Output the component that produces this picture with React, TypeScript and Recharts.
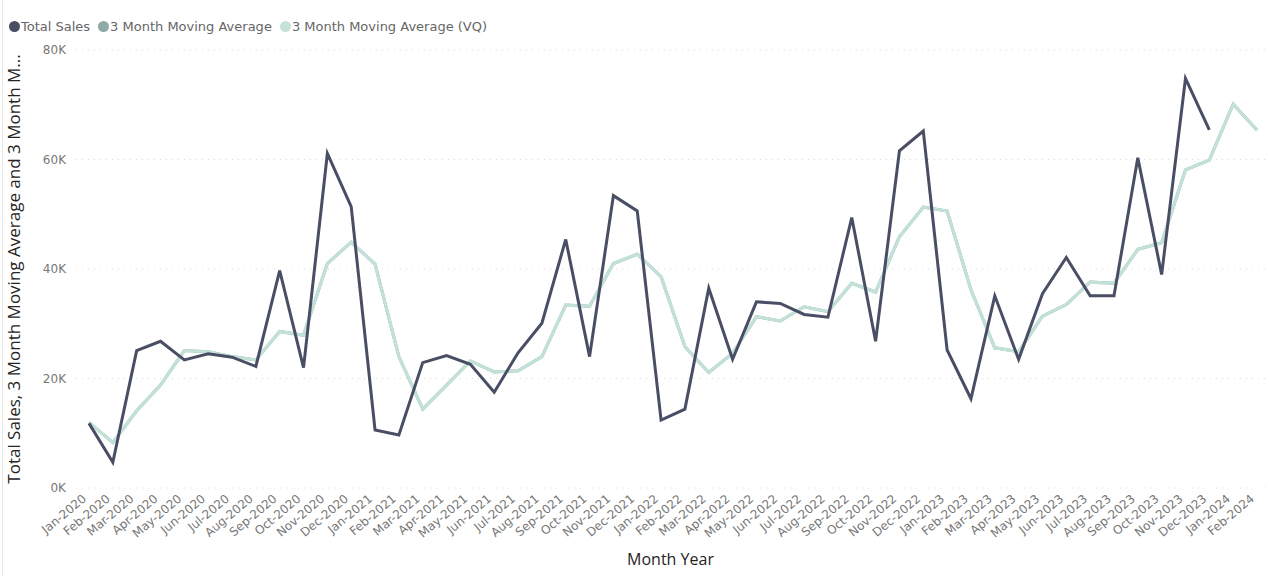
import * as React from "react";
import { LineChart, Line, XAxis, YAxis, CartesianGrid, Legend, Label } from "recharts";

const months = [
  "Jan-2020", "Feb-2020", "Mar-2020", "Apr-2020", "May-2020", "Jun-2020", "Jul-2020", "Aug-2020", "Sep-2020", "Oct-2020", "Nov-2020", "Dec-2020",
  "Jan-2021", "Feb-2021", "Mar-2021", "Apr-2021", "May-2021", "Jun-2021", "Jul-2021", "Aug-2021", "Sep-2021", "Oct-2021", "Nov-2021", "Dec-2021",
  "Jan-2022", "Feb-2022", "Mar-2022", "Apr-2022", "May-2022", "Jun-2022", "Jul-2022", "Aug-2022", "Sep-2022", "Oct-2022", "Nov-2022", "Dec-2022",
  "Jan-2023", "Feb-2023", "Mar-2023", "Apr-2023", "May-2023", "Jun-2023", "Jul-2023", "Aug-2023", "Sep-2023", "Oct-2023", "Nov-2023", "Dec-2023",
  "Jan-2024", "Feb-2024",
];

// values in K
const totalSales = [
  11.8, 4.7, 25.1, 26.8, 23.4, 24.5, 23.9, 22.2, 39.7, 22.0, 61.1, 51.4,
  10.6, 9.7, 22.9, 24.2, 22.6, 17.5, 24.7, 30.1, 45.4, 24.0, 53.4, 50.6,
  12.4, 14.4, 36.5, 23.5, 34.0, 33.7, 31.7, 31.2, 49.4, 26.8, 61.6, 65.2,
  25.2, 16.3, 35.1, 23.5, 35.5, 42.1, 35.1, 35.1, 60.3, 39.0, 74.8, 65.4,
  null, null,
];

const movingAvg = [
  12.0, 8.3, 14.1, 18.8, 25.1, 24.9, 24.0, 23.4, 28.6, 27.9, 41.0, 44.9,
  40.9, 24.0, 14.4, 18.8, 23.2, 21.2, 21.4, 24.0, 33.4, 33.2, 41.0, 42.7,
  38.6, 25.8, 21.1, 24.6, 31.3, 30.5, 33.1, 32.2, 37.4, 35.8, 45.9, 51.3,
  50.6, 36.2, 25.6, 24.9, 31.4, 33.5, 37.6, 37.4, 43.6, 44.8, 58.1, 59.9,
  70.1, 65.4,
];

const movingAvgVQ = [
  12.0, 8.3, 14.1, 18.8, 25.1, 24.9, 24.0, 23.4, 28.6, 27.9, 41.0, 44.9,
  40.9, 24.0, 14.4, 18.8, 23.2, 21.2, 21.4, 24.0, 33.4, 33.2, 41.0, 42.7,
  38.6, 25.8, 21.1, 24.6, 31.3, 30.5, 33.1, 32.2, 37.4, 35.8, 45.9, 51.3,
  50.6, 36.2, 25.6, 24.9, 31.4, 33.5, 37.6, 37.4, 43.6, 44.8, 58.1, 59.9,
  70.1, 65.4,
];

const yTicks = [0, 20000, 40000, 60000, 80000];

const series = [
  { key: "sales", name: "Total Sales", color: "#4a4e64" },
  { key: "ma", name: "3 Month Moving Average", color: "#8faaa6" },
  { key: "vq", name: "3 Month Moving Average (VQ)", color: "#c2e2d8" },
];

const data = months.map((m, i) => ({
  month: m,
  sales: totalSales[i] == null ? null : totalSales[i]! * 1000,
  ma: movingAvg[i] * 1000,
  vq: movingAvgVQ[i] * 1000,
}));

const font = "'DejaVu Sans', Verdana, sans-serif";
const titleFont = "'Open Sans', sans-serif";

function MonthTick({ x, y, payload }: any) {
  return (
    <g transform={`translate(${x - 2},${y + 10})`}>
      <text textAnchor="end" transform="rotate(-40)" fontSize={12} fill="#777" fontFamily={font}>
        {payload.value}
      </text>
    </g>
  );
}

function LegendBox() {
  return (
    <div style={{ display: "flex", alignItems: "center", height: 20, fontFamily: font, fontSize: 13, color: "#666" }}>
      {series.map((s) => (
        <span key={s.key} style={{ display: "flex", alignItems: "center", marginRight: 8 }}>
          <span style={{ width: 11, height: 11, borderRadius: 6, background: s.color, marginRight: 1 }} />
          {s.name}
        </span>
      ))}
    </div>
  );
}

export default function App() {
  return (
    <div style={{ position: "absolute", left: 0, top: 0, width: 1269, height: 576, background: "#fff" }}>
      <div style={{ position: "absolute", left: 2, top: 0, width: 1, height: 576, background: "#e8e8e8" }} />
      <LineChart width={1269} height={576} data={data} margin={{ top: 30, right: 4, bottom: 0, left: 0 }}>
        <Legend verticalAlign="top" align="left" content={<LegendBox />} wrapperStyle={{ top: 16, left: 9 }} />
        <CartesianGrid vertical={false} stroke="#dcdcdc" strokeDasharray="1 5" />
        <XAxis
          dataKey="month"
          interval={0}
          tick={<MonthTick />}
          axisLine={false}
          tickLine={false}
          tickSize={0}
          height={88}
          padding={{ left: 13, right: 8 }}
        >
          <Label value="Month Year" position="insideBottom" offset={11} fill="#252423" fontSize={16} fontFamily={titleFont} />
        </XAxis>
        <YAxis
          domain={[0, 80000]}
          ticks={yTicks}
          tickFormatter={(v: number) => `${v / 1000}K`}
          axisLine={false}
          tickLine={false}
          tickSize={0}
          tickMargin={10}
          width={76}
          tick={{ fontSize: 12, fill: "#777", fontFamily: font }}
        >
          <Label
            value="Total Sales, 3 Month Moving Average and 3 Month M..."
            angle={-90}
            position="insideLeft"
            offset={14}
            style={{ textAnchor: "middle" }}
            fill="#252423"
            fontSize={17}
            fontFamily={titleFont}
          />
        </YAxis>
        <Line dataKey="ma" name="3 Month Moving Average" stroke="#8faaa6" strokeWidth={3} dot={false} isAnimationActive={false} />
        <Line dataKey="vq" name="3 Month Moving Average (VQ)" stroke="#c2e2d8" strokeWidth={3} dot={false} isAnimationActive={false} />
        <Line dataKey="sales" name="Total Sales" stroke="#4a4e64" strokeWidth={3} dot={false} isAnimationActive={false} />
      </LineChart>
    </div>
  );
}
